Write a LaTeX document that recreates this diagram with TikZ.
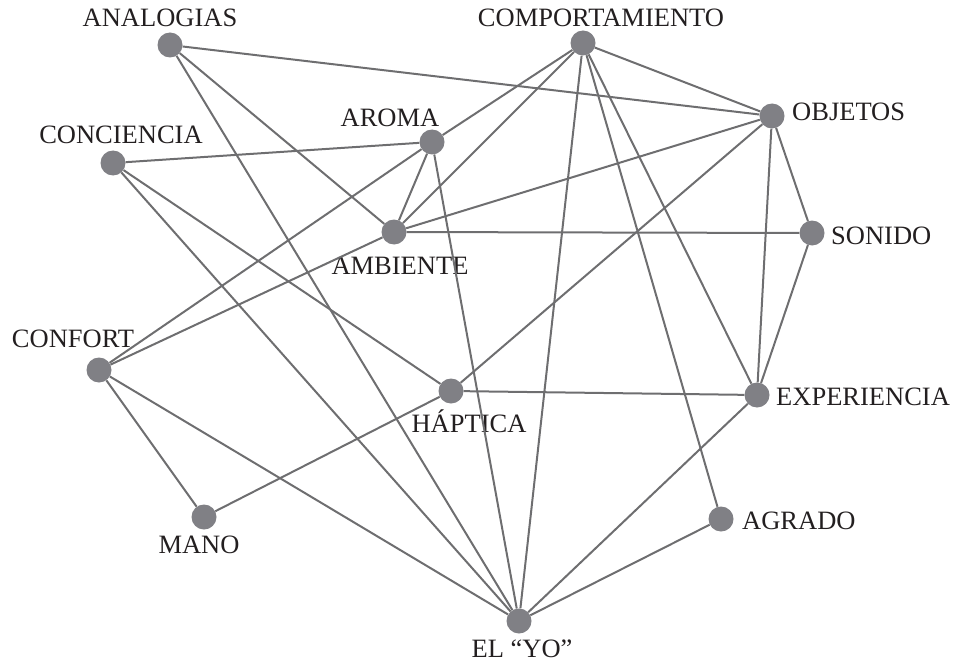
\documentclass[tikz,border=0pt]{standalone}
\usepackage{fontspec}
\setmainfont{Liberation Serif}
\definecolor{dotgray}{HTML}{808085}
\definecolor{linegray}{HTML}{6E6E70}
\definecolor{txt}{HTML}{231F20}
\begin{document}
\begin{tikzpicture}[x=1pt,y=-1pt,
  dot/.style={circle,fill=dotgray,minimum size=25pt,inner sep=0pt},
  edge/.style={draw=linegray,line width=2pt},
  lbl/.style={font=\fontsize{26.5}{30}\selectfont,text=txt,inner sep=0pt}]
\useasboundingbox (0,0) rectangle (957,663);
% nodes
\node[dot] (ana) at (170,45) {};
\node[dot] (com) at (583,43) {};
\node[dot] (obj) at (772,116) {};
\node[dot] (aro) at (432,142) {};
\node[dot] (con) at (113,163) {};
\node[dot] (amb) at (394,232) {};
\node[dot] (son) at (812,233) {};
\node[dot] (cnf) at (99,370) {};
\node[dot] (hap) at (451,391) {};
\node[dot] (exp) at (757,395) {};
\node[dot] (man) at (204,517) {};
\node[dot] (agr) at (721,519) {};
\node[dot] (yo) at (519,621) {};
% labels
\node[lbl] (tana) at (160,18) {ANALOGIAS};
\node[lbl] (tcom) at (601,18) {COMPORTAMIENTO};
\node[lbl,anchor=west] (tobj) at (792,112) {OBJETOS};
\node[lbl] (taro) at (390,118) {AROMA};
\node[lbl] (tcon) at (121,135) {CONCIENCIA};
\node[lbl] (tamb) at (400,266) {AMBIENTE};
\node[lbl,anchor=west] (tson) at (831,236) {SONIDO};
\node[lbl] (tcnf) at (73,339) {CONFORT};
\node[lbl,anchor=base] (thap) at (469,432) {HÁPTICA};
\node[lbl,anchor=west] (texp) at (776,397) {EXPERIENCIA};
\node[lbl] (tman) at (199,545) {MANO};
\node[lbl,anchor=west] (tagr) at (742,521) {AGRADO};
\node[lbl,anchor=base] (tyo) at (522,657) {EL “YO”};
% edges
\foreach \a/\b in {ana/obj,ana/amb,ana/yo,
  com/aro,com/amb,com/obj,com/yo,com/agr,com/exp,
  con/aro,con/hap,con/yo,
  aro/amb,aro/cnf,aro/yo,
  amb/obj,amb/son,amb/cnf,
  hap/obj,hap/exp,hap/man,
  obj/son,obj/exp,son/exp,
  cnf/man,cnf/yo,exp/yo,agr/yo}
  \draw[edge] (\a) -- (\b);
\end{tikzpicture}
\end{document}
